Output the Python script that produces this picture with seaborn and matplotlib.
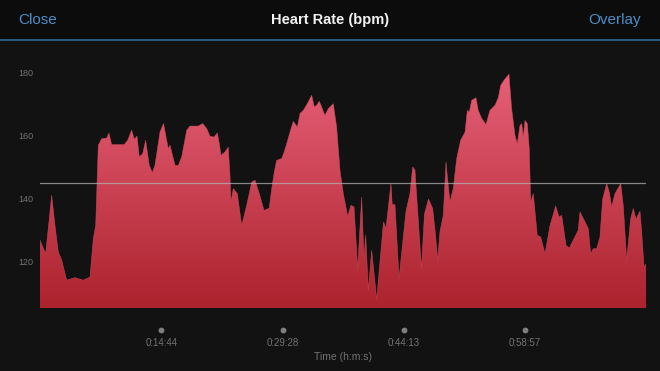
import matplotlib
matplotlib.use("Agg")
import matplotlib.pyplot as plt
from matplotlib.colors import LinearSegmentedColormap
from matplotlib.patches import Rectangle
from matplotlib.lines import Line2D
import numpy as np
import pandas as pd
import seaborn as sns

# elapsed time (minutes) and heart rate (bpm)
minutes = [0.0, 0.69, 1.42, 1.82, 2.22, 2.64, 3.24, 4.25, 5.26, 6.08,
           6.48, 6.77, 7.08, 7.50, 8.11, 8.38, 8.71, 10.24, 10.66, 11.14,
           11.46, 11.79, 12.07, 12.48, 12.84, 13.28, 13.65, 13.97, 14.58, 15.01,
           15.59, 15.80, 16.41, 16.81, 17.22, 17.83, 18.23, 19.24, 19.77, 20.26,
           20.66, 21.14, 21.55, 21.79, 22.00, 22.48, 22.88, 23.09, 23.21, 23.49,
           23.98, 24.51, 25.12, 25.73, 26.13, 26.65, 27.22, 27.86, 28.16, 28.47,
           28.76, 29.37, 29.65, 29.98, 30.38, 30.78, 31.27, 31.60, 32.00, 32.48,
           33.02, 33.33, 33.62, 33.94, 34.63, 35.03, 35.64, 36.05, 36.25, 36.46,
           36.86, 37.39, 37.79, 38.16, 38.61, 39.09, 39.37, 39.58, 39.90, 40.31,
           40.92, 41.74, 42.05, 42.65, 42.81, 43.14, 43.63, 44.48, 44.96, 45.29,
           45.57, 46.36, 46.72, 47.21, 47.72, 48.06, 48.33, 48.61, 49.01, 49.34,
           49.49, 49.82, 50.22, 50.64, 51.12, 51.65, 51.93, 52.17, 52.46, 52.98,
           53.26, 53.68, 54.20, 54.68, 55.29, 55.69, 55.98, 56.39, 56.99, 57.32,
           57.72, 58.00, 58.33, 58.54, 58.73, 58.94, 59.22, 59.46, 59.63, 59.95,
           60.43, 60.85, 61.37, 61.98, 62.67, 63.07, 63.40, 63.92, 64.32, 65.41,
           65.62, 66.23, 66.63, 66.92, 67.24, 67.65, 68.05, 68.38, 68.87, 69.18,
           69.47, 69.87, 70.57, 70.88, 71.30, 71.78, 72.10, 72.43, 72.91, 73.12,
           73.40, 73.68]
bpm = [126.7, 122.4, 141.0, 131.4, 123.0, 120.3, 114.0, 114.8, 114.0, 115.0,
       127.2, 131.4, 156.9, 159.0, 159.2, 160.8, 157.1, 157.1, 158.5, 161.7,
       158.8, 159.8, 153.2, 154.2, 158.5, 150.5, 148.2, 150.5, 161.1, 163.8,
       155.8, 156.9, 150.5, 150.5, 153.2, 161.7, 163.0, 163.0, 163.8, 162.2,
       159.8, 159.5, 160.8, 157.4, 153.7, 154.8, 156.3, 147.3, 138.9, 143.1,
       141.5, 131.4, 137.8, 145.2, 145.8, 141.5, 136.2, 136.9, 143.1, 148.4,
       152.1, 152.7, 154.6, 157.4, 161.1, 164.5, 162.7, 167.0, 168.0, 170.1,
       172.8, 169.1, 169.6, 170.9, 166.4, 168.5, 170.1, 162.7, 155.8, 148.9,
       141.5, 134.3, 137.8, 137.3, 117.5, 140.4, 120.9, 128.3, 110.8, 123.5,
       107.8, 132.5, 130.5, 144.7, 138.0, 138.0, 114.5, 136.0, 141.5, 150.0,
       149.0, 117.7, 135.0, 139.8, 136.8, 128.5, 120.3, 129.5, 134.6, 151.6,
       147.3, 138.9, 143.1, 152.7, 158.5, 161.1, 168.0, 167.5, 171.2, 172.0,
       168.0, 165.4, 163.5, 168.0, 169.6, 172.0, 175.9, 177.6, 179.5, 168.5,
       160.1, 157.4, 163.2, 163.8, 159.5, 164.8, 163.8, 155.8, 138.9, 141.5,
       128.3, 127.7, 122.4, 131.4, 137.6, 134.1, 134.6, 125.1, 124.2, 129.9,
       135.7, 132.5, 130.4, 122.4, 124.0, 124.0, 127.7, 139.9, 144.7, 142.0,
       137.3, 141.5, 144.7, 137.8, 120.3, 133.6, 136.8, 133.4, 135.9, 129.3,
       118.2, 119.3]
avg_bpm = 145
tick_minutes = [14.74, 29.47, 44.22, 58.95]
tick_labels = ["0:14:44", "0:29:28", "0:44:13", "0:58:57"]
y_ticks = [120, 140, 160, 180]
y_min, y_max = 105, 182

df = pd.DataFrame({"minutes": minutes, "bpm": bpm})
duration = df["minutes"].max()

sns.set_theme(style="dark")
plt.rcParams["font.family"] = ["Liberation Sans", "DejaVu Sans"]

bg = "#121212"
grey = "#727272"
blue = "#4a8fc9"

fig = plt.figure(figsize=(6.6, 3.71), dpi=100, facecolor=bg)
ax = fig.add_axes([40 / 660, 1 - 308.5 / 371, 606.3 / 660, 242.2 / 371])
ax.set_facecolor(bg)

# area under the curve with a vertical red gradient
fill = ax.fill_between(df["minutes"], y_min, df["bpm"], color="none", lw=0)
cmap = LinearSegmentedColormap.from_list("hr", ["#ac222d", "#e9627a"])
grad = np.linspace(0, 1, 256).reshape(-1, 1)
img = ax.imshow(grad, cmap=cmap, origin="lower", aspect="auto",
                extent=[0, duration, y_min, y_max], zorder=2)
img.set_clip_path(fill.get_paths()[0], transform=ax.transData)

sns.lineplot(data=df, x="minutes", y="bpm", ax=ax, color="#d24c5e",
             lw=0.4, alpha=0.8, zorder=3)

# average heart rate
ax.axhline(avg_bpm, color="#b0b0b0", lw=0.9, alpha=0.75, zorder=4)

ax.set_xlim(0, duration)
ax.set_ylim(y_min, y_max)
ax.grid(False)
for s in ax.spines.values():
    s.set_visible(False)

ax.set_yticks(y_ticks)
ax.tick_params(axis="y", length=0, pad=4.5, labelsize=6.5, labelcolor=grey)
ax.set_xticks(tick_minutes, tick_labels)
ax.tick_params(axis="x", length=0, pad=21, labelsize=7, labelcolor=grey)
ax.set_xlabel("Time (h:m:s)", fontsize=7.5, color=grey, labelpad=3)
ax.set_ylabel("")

# dots above the time labels
ax.plot(tick_minutes, [-0.088] * len(tick_minutes), "o",
        transform=ax.get_xaxis_transform(), clip_on=False,
        color="#7e7e7e", ms=4.2, mec="none")

# header bar
fig.patches.append(Rectangle((0, 1 - 39 / 371), 1, 39 / 371,
                             transform=fig.transFigure, color="#0c0c0c", zorder=0))
fig.add_artist(Line2D([0, 1], [1 - 40 / 371] * 2, color="#2d6a97", lw=1.2))
fig.text(18 / 660, 1 - 20 / 371, "Close", ha="left", va="center",
         fontsize=11, color=blue)
fig.text(0.5, 1 - 20 / 371, "Heart Rate (bpm)", ha="center", va="center",
         fontsize=10.5, fontweight="bold", color="#f2f2f2")
fig.text(641 / 660, 1 - 20 / 371, "Overlay", ha="right", va="center",
         fontsize=11, color=blue)

fig.savefig("out.png", dpi=100, facecolor=bg)
